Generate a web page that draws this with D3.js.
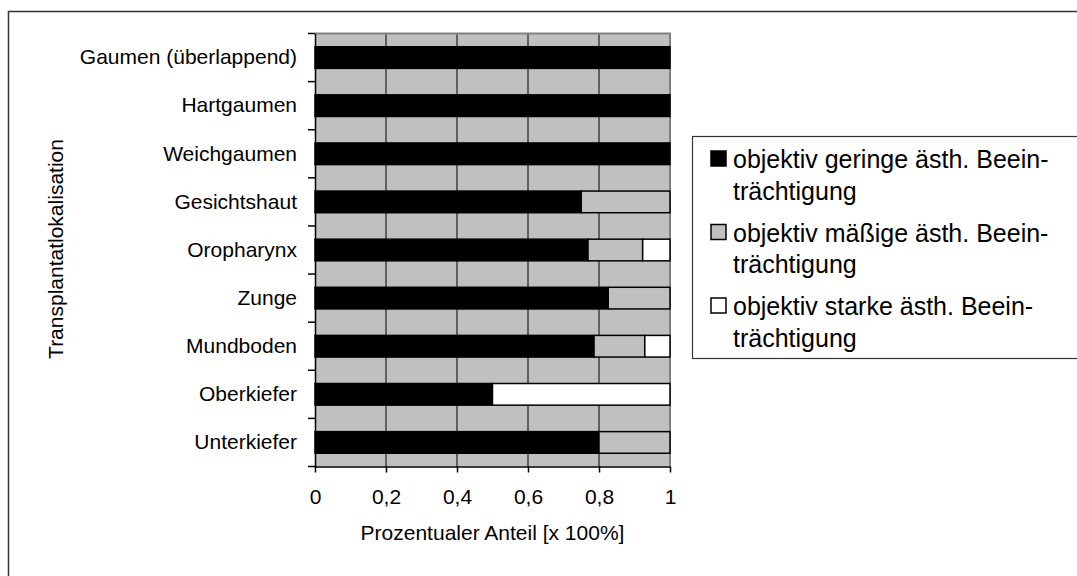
<!DOCTYPE html>
<html>
<head>
<meta charset="utf-8">
<script src="https://cdn.jsdelivr.net/npm/d3@7"></script>
<style>
  html, body { margin: 0; padding: 0; background: #fff; }
  svg { display: block; font-family: "Liberation Sans", Arial, sans-serif; }
</style>
</head>
<body>
<svg id="chart" width="1077" height="576"></svg>
<script>
// Graft sites, top to bottom
const categories = ["Gaumen (überlappend)", "Hartgaumen", "Weichgaumen", "Gesichtshaut",
  "Oropharynx", "Zunge", "Mundboden", "Oberkiefer", "Unterkiefer"];
// Shares of aesthetic impairment per site (fractions of 1)
const gering  = [1, 1, 1, 0.75, 0.769, 0.826, 0.786, 0.5, 0.8];
const maessig = [0, 0, 0, 0.25, 0.154, 0.174, 0.143, 0, 0.2];
const stark   = [0, 0, 0, 0, 0.077, 0, 0.071, 0.5, 0];
const seriesNames = [
  ["objektiv geringe ästh. Beein-", "trächtigung"],
  ["objektiv mäßige ästh. Beein-", "trächtigung"],
  ["objektiv starke ästh. Beein-", "trächtigung"]
];
const seriesKeys = ["gering", "maessig", "stark"];
const seriesColors = ["#000000", "#c0c0c0", "#ffffff"];
const xTicks = [0, 0.2, 0.4, 0.6, 0.8, 1];
const xTitle = "Prozentualer Anteil [x 100%]";
const yTitle = "Transplantatlokalisation";

const rows = categories.map((c, i) => ({ cat: c, gering: gering[i], maessig: maessig[i], stark: stark[i] }));

const svg = d3.select("#chart");
const plot = { left: 315, right: 670, top: 33.5, bottom: 466.5 };

// outer chart frame
svg.append("rect").attr("x", 8.5).attr("y", 11.5).attr("width", 1100).attr("height", 600)
  .attr("fill", "#fff").attr("stroke", "#333").attr("stroke-width", 1.5);

const x = d3.scaleLinear().domain([0, 1]).range([plot.left, plot.right]);
const y = d3.scaleBand().domain(categories).range([plot.top, plot.bottom])
  .paddingInner(0.55).paddingOuter(0.275);

// plot background
svg.append("rect").attr("x", plot.left).attr("y", plot.top)
  .attr("width", plot.right - plot.left).attr("height", plot.bottom - plot.top)
  .attr("fill", "#c0c0c0");

// vertical gridlines
svg.append("g").selectAll("line").data(xTicks.slice(1, -1)).join("line")
  .attr("x1", d => x(d)).attr("x2", d => x(d))
  .attr("y1", plot.top).attr("y2", plot.bottom)
  .attr("stroke", "#000").attr("stroke-width", 1);

// plot border (top and right)
svg.append("path")
  .attr("d", `M${plot.left},${plot.top}H${plot.right}V${plot.bottom}`)
  .attr("fill", "none").attr("stroke", "#808080").attr("stroke-width", 2);

// stacked bars
const stack = d3.stack().keys(seriesKeys);
const stacked = stack(rows);
svg.append("g").selectAll("g").data(stacked).join("g")
  .attr("fill", (d, i) => seriesColors[i])
  .selectAll("rect").data(d => d.filter(s => s[1] - s[0] > 0)).join("rect")
  .attr("x", d => x(d[0]))
  .attr("y", d => y(d.data.cat))
  .attr("width", d => x(d[1]) - x(d[0]))
  .attr("height", y.bandwidth())
  .attr("stroke", "#000").attr("stroke-width", 1.5);

// x axis
const xAxis = d3.axisBottom(x).tickValues(xTicks)
  .tickFormat(d => String(d).replace(".", ","))
  .tickSize(6).tickSizeOuter(0).tickPadding(17);
const gx = svg.append("g").attr("transform", `translate(0,${plot.bottom})`).call(xAxis);
gx.select(".domain").attr("stroke", "#000").attr("stroke-width", 1.5);
gx.selectAll(".tick line").attr("stroke", "#000").attr("stroke-width", 1.5);
gx.selectAll(".tick text").attr("font-size", 21).attr("fill", "#000")
  .attr("font-family", "Liberation Sans, Arial, sans-serif");

// y axis: labels centred on bars, ticks at category boundaries
const yAxis = d3.axisLeft(y).tickSize(0).tickPadding(18);
const gy = svg.append("g").attr("transform", `translate(${plot.left},0)`).call(yAxis);
gy.select(".domain").attr("stroke", "#000").attr("stroke-width", 1.5);
gy.selectAll(".tick text").attr("font-size", 21).attr("fill", "#000")
  .attr("font-family", "Liberation Sans, Arial, sans-serif");
const bounds = d3.range(categories.length + 1).map(i => plot.top + i * y.step());
gy.selectAll(".bound").data(bounds).join("line").attr("class", "bound")
  .attr("x1", -7).attr("x2", 0).attr("y1", d => d).attr("y2", d => d)
  .attr("stroke", "#000").attr("stroke-width", 1.5);

// axis titles
svg.append("text").attr("x", (plot.left + plot.right) / 2).attr("y", 540)
  .attr("text-anchor", "middle").attr("font-size", 21).text(xTitle);
svg.append("text")
  .attr("transform", `translate(63,${(plot.top + plot.bottom) / 2 - 1}) rotate(-90)`)
  .attr("text-anchor", "middle").attr("font-size", 21).text(yTitle);

// legend
const lg = svg.append("g");
lg.append("rect").attr("x", 692.5).attr("y", 136.5).attr("width", 420).attr("height", 222)
  .attr("fill", "#fff").attr("stroke", "#333").attr("stroke-width", 1.2);
seriesNames.forEach((lines, i) => {
  const base = 168 + i * 73.5;
  lg.append("rect").attr("x", 711).attr("y", base - 17).attr("width", 15).attr("height", 15)
    .attr("fill", seriesColors[i]).attr("stroke", "#000").attr("stroke-width", 1.5);
  lines.forEach((t, j) => {
    lg.append("text").attr("x", 733).attr("y", base + j * 31.7)
      .attr("font-size", 25).attr("fill", "#000").text(t);
  });
});
</script>
</body>
</html>
